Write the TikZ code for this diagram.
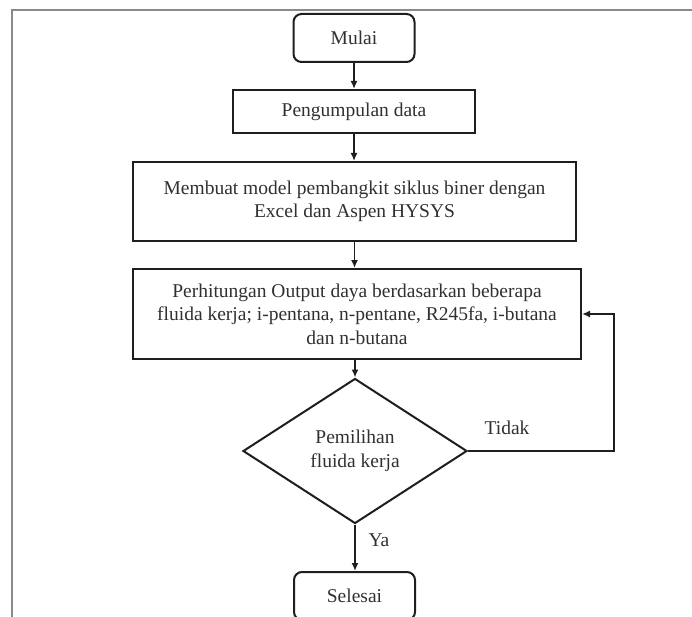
\documentclass[tikz,border=0pt]{standalone}
\usepackage{fontspec}
\setmainfont{Liberation Serif}
\usetikzlibrary{arrows.meta,shapes.geometric}
\definecolor{ln}{HTML}{1E1E1E}
\definecolor{tx}{HTML}{303030}
\definecolor{fr}{HTML}{8A8A8A}
\begin{document}
\begin{tikzpicture}[x=1pt,y=-1pt,
  every node/.style={font=\fontsize{19.5}{23.5}\selectfont, text=tx},
  procbox/.style={draw=ln, line width=2pt, rectangle, align=center, inner sep=0pt},
  termbox/.style={draw=ln, line width=2pt, rectangle, rounded corners=8pt, inner sep=0pt,
    minimum width=121pt, minimum height=48pt},
  decbox/.style={draw=ln, line width=2pt, diamond, aspect=1.545, inner sep=0pt, align=center,
    minimum width=224pt, minimum height=145pt},
  flow/.style={draw=ln, line width=1.6pt, -{Latex[length=8pt,width=7pt]}},
  lbl/.style={inner sep=0pt}
]
\useasboundingbox (0,0) rectangle (692,617);
% frame
\draw[fr, line width=1.6pt] (12,620) -- (12,10) -- (695,10);

\node[termbox] (mulai) at (354,38) {Mulai};
\node[procbox, minimum width=242pt, minimum height=43pt] (peng) at (354,111.5) {Pengumpulan data};
\node[procbox, minimum width=443pt, minimum height=79pt] (model) at (354.5,201.5)
  {Membuat model pembangkit siklus biner dengan\\Excel dan Aspen HYSYS};
\node[procbox, minimum width=448pt, minimum height=90pt] (hitung) at (357,314)
  {Perhitungan Output daya berdasarkan beberapa\\fluida kerja; i-pentana, n-pentane, R245fa, i-butana\\dan n-butana};
\node[decbox] (pilih) at (355,451) {Pemilihan\\fluida kerja};
\node[termbox] (selesai) at (354.5,596) {Selesai};

\coordinate (kanan) at (614,451);

\draw[flow] (mulai.south -| peng.north) -- (peng.north);
\draw[flow] (peng.south) -- (peng.south |- model.north);
\draw[flow] (model.south) -- (model.south |- hitung.north);
\draw[flow] (pilih.north |- hitung.south) -- (pilih.north);
\draw[flow] (pilih.south) -- (pilih.south |- selesai.north);
\draw[flow] (pilih.east) -- (kanan) -- (kanan |- hitung.east) -- (hitung.east);

\node[lbl] (tidak) at (507,428) {Tidak};
\node[lbl] (ya) at (379,540) {Ya};
\end{tikzpicture}
\end{document}
